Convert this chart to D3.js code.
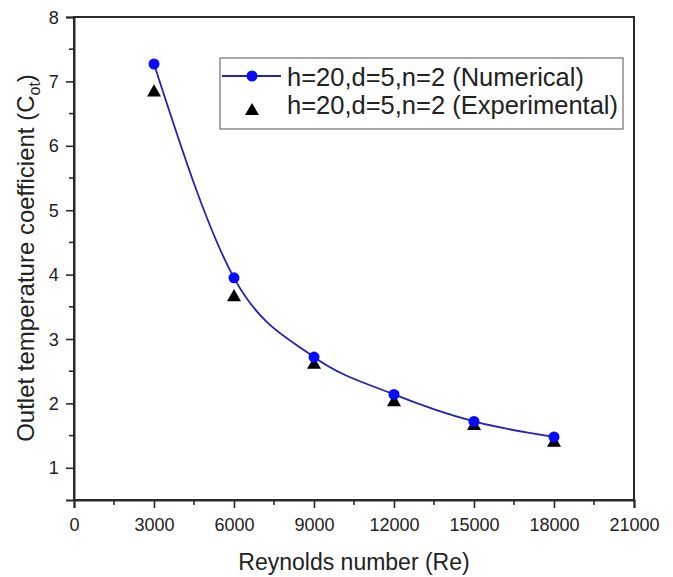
<!DOCTYPE html>
<html>
<head>
<meta charset="utf-8">
<script src="https://d3js.org/d3.v7.min.js"></script>
<style>
  body { margin: 0; background: #fff; }
  text { font-family: "Liberation Sans", Arial, sans-serif; fill: #222; }
</style>
</head>
<body>
<svg width="673" height="577"></svg>
<script>
const reynolds = [3000, 6000, 9000, 12000, 15000, 18000];
const numerical = [7.27, 3.95, 2.72, 2.14, 1.72, 1.48];
const experimental = [6.83, 3.65, 2.60, 2.02, 1.65, 1.39];
const xTicks = [0, 3000, 6000, 9000, 12000, 15000, 18000, 21000];
const yTicks = [1, 2, 3, 4, 5, 6, 7, 8];
const seriesNames = ["h=20,d=5,n=2 (Numerical)", "h=20,d=5,n=2 (Experimental)"];

const svg = d3.select("svg");
const plot = {left: 74, right: 634, top: 17, bottom: 500};

const x = d3.scaleLinear().domain([0, 21000]).range([plot.left, plot.right]);
const y = d3.scaleLinear().domain([0.5, 8]).range([plot.bottom, plot.top]);

// frame
svg.append("rect")
  .attr("x", plot.left).attr("y", plot.top)
  .attr("width", plot.right - plot.left).attr("height", plot.bottom - plot.top)
  .attr("fill", "none").attr("stroke", "#2a2a2a").attr("stroke-width", 2);

// minor ticks
const xMinor = d3.range(1500, 21000, 3000);
const yMinor = d3.range(1.5, 8, 1);
svg.append("g").selectAll("line").data(xMinor).enter().append("line")
  .attr("x1", d => x(d)).attr("x2", d => x(d))
  .attr("y1", plot.bottom).attr("y2", plot.bottom + 5)
  .attr("stroke", "#2a2a2a").attr("stroke-width", 1.6);
svg.append("g").selectAll("line").data(yMinor).enter().append("line")
  .attr("x1", plot.left - 5).attr("x2", plot.left)
  .attr("y1", d => y(d)).attr("y2", d => y(d))
  .attr("stroke", "#2a2a2a").attr("stroke-width", 1.6);

// axes
const xAxis = svg.append("g")
  .attr("transform", "translate(0," + plot.bottom + ")")
  .call(d3.axisBottom(x).tickValues(xTicks).tickSize(8).tickPadding(10).tickFormat(d3.format("d")));
const yAxis = svg.append("g")
  .attr("transform", "translate(" + plot.left + ",0)")
  .call(d3.axisLeft(y).tickValues(yTicks).tickSize(8).tickPadding(8).tickFormat(d3.format("d")));
[xAxis, yAxis].forEach(a => {
  a.select(".domain").attr("stroke", "#2a2a2a").attr("stroke-width", 2);
  a.selectAll(".tick line").attr("stroke", "#2a2a2a").attr("stroke-width", 1.6);
  a.selectAll(".tick text").style("font-size", "19px").attr("fill", "#222")
    .style("font-family", "'Liberation Sans', Arial, sans-serif")
    .attr("transform", "scale(0.95,1)");
});

// axis titles
svg.append("text")
  .attr("x", (plot.left + plot.right) / 2).attr("y", 570)
  .attr("text-anchor", "middle").style("font-size", "23px")
  .text("Reynolds number (Re)");
const yl = svg.append("text")
  .attr("transform", "translate(34,258) rotate(-90)")
  .attr("text-anchor", "middle").style("font-size", "24px");
yl.append("tspan").text("Outlet temperature coefficient (C");
yl.append("tspan").attr("dy", 6).style("font-size", "16px").text("ot");
yl.append("tspan").attr("dy", -6).text(")");

// numerical curve
const pts = reynolds.map((r, i) => [r, numerical[i]]);
const line = d3.line().x(d => x(d[0])).y(d => y(d[1])).curve(d3.curveMonotoneX);
svg.append("path").datum(pts)
  .attr("d", line).attr("fill", "none")
  .attr("stroke", "#2222b4").attr("stroke-width", 1.8);

// experimental triangles
const tri = d3.symbol().type(d3.symbolTriangle).size(85);
svg.append("g").selectAll("path").data(reynolds).enter().append("path")
  .attr("d", tri)
  .attr("transform", (d, i) => "translate(" + x(d) + "," + y(experimental[i]) + ")")
  .attr("fill", "#000");

// numerical markers
svg.append("g").selectAll("circle").data(pts).enter().append("circle")
  .attr("cx", d => x(d[0])).attr("cy", d => y(d[1])).attr("r", 5.5)
  .attr("fill", "#0a0aff");

// legend
const lg = svg.append("g");
lg.append("rect").attr("x", 220).attr("y", 58).attr("width", 403).attr("height", 71)
  .attr("fill", "#fff").attr("stroke", "#555").attr("stroke-width", 1);
lg.append("line").attr("x1", 222).attr("x2", 281).attr("y1", 76).attr("y2", 76)
  .attr("stroke", "#2222b4").attr("stroke-width", 1.8);
lg.append("circle").attr("cx", 252).attr("cy", 76).attr("r", 5.5).attr("fill", "#0a0aff");
lg.append("path").attr("d", tri).attr("transform", "translate(252,111)").attr("fill", "#000");
lg.selectAll("text.leg").data(seriesNames).enter().append("text")
  .attr("class", "leg")
  .attr("x", 287).attr("y", (d, i) => 86 + i * 28)
  .style("font-size", "25.5px")
  .text(d => d);
</script>
</body>
</html>
